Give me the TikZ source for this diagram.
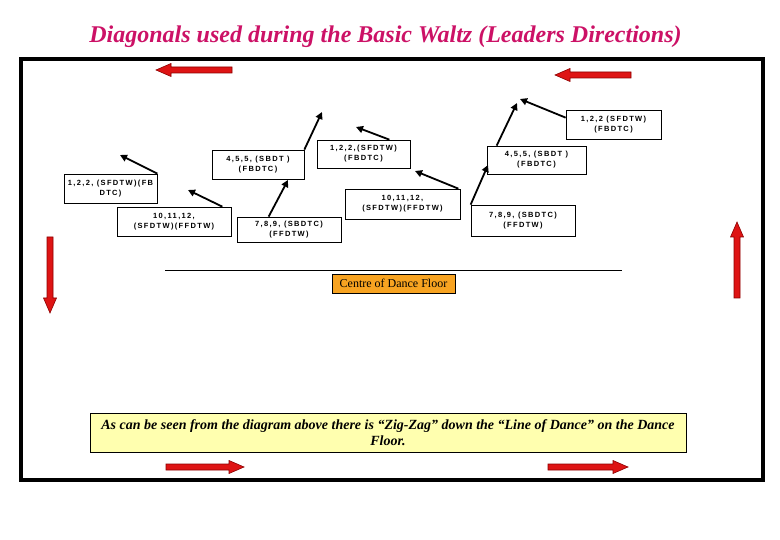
\documentclass[tikz,border=0pt]{standalone}
\usepackage{fontspec}
\setmainfont{Liberation Serif}
\newfontfamily\boxfont[LetterSpace=18]{Liberation Sans}
\usetikzlibrary{arrows.meta,calc}
\definecolor{titlecol}{RGB}{204,17,102}
\definecolor{arrowred}{RGB}{222,20,20}
\definecolor{arrowdark}{RGB}{140,0,0}
\definecolor{noteyellow}{RGB}{255,255,175}
\definecolor{centreorange}{RGB}{247,163,33}
\newcommand\myredarrow[3]{%
  \begin{scope}[shift={#1}, rotate=#2]
    \filldraw[fill=arrowred, draw=arrowdark, line width=0.6pt]
      (0,-3) -- ({#3-15},-3) -- ({#3-15},-6.5) -- (#3,0) -- ({#3-15},6.5) -- ({#3-15},3) -- (0,3) -- cycle;
  \end{scope}}
\begin{document}
\begin{tikzpicture}[x=1pt,y=-1pt,
  lbl/.style={draw, line width=0.7pt, fill=white, inner sep=0pt, align=center,
    font=\boxfont\bfseries\fontsize{7.5}{10}\selectfont},
  dir/.style={line width=1.8pt, -{Triangle[length=7pt,width=7pt]}}]
\useasboundingbox (0,0) rectangle (780,540);
\fill[white] (0,0) rectangle (780,540);
% title
\node[anchor=base, text=titlecol, inner sep=0pt,
  font=\bfseries\itshape\fontsize{24}{28}\selectfont] (title) at (385.5,43)
  {Diagonals used during the Basic Waltz (Leaders Directions)};
% frame
\draw[line width=4pt] (21,59) rectangle (763,480);
% red arrows
\myredarrow{(232,70)}{180}{76}
\myredarrow{(631,75)}{180}{76}
\myredarrow{(50,237)}{-90}{76}
\myredarrow{(737,298)}{90}{76}
\myredarrow{(166,467)}{0}{78}
\myredarrow{(548,467)}{0}{80}
% boxes
\node[lbl, minimum width=95pt, minimum height=29pt] (A) at (613.5,124.5) {1,2,2 (SFDTW)\\(FBDTC)};
\node[lbl, minimum width=99pt, minimum height=28pt] (B) at (536.5,160) {4,5,5, (SBDT )\\(FBDTC)};
\node[lbl, minimum width=93pt, minimum height=28pt] (C) at (363.5,154) {1,2,2,(SFDTW)\\(FBDTC)};
\node[lbl, minimum width=92pt, minimum height=29pt] (D) at (258,164.5) {4,5,5, (SBDT )\\(FBDTC)};
\node[lbl, minimum width=93pt, minimum height=29pt] (E) at (110.5,188.5) {1,2,2, (SFDTW)(FB\\DTC)};
\node[lbl, minimum width=114pt, minimum height=29pt] (F) at (174,221.5) {10,11,12,\\(SFDTW)(FFDTW)};
\node[lbl, minimum width=104pt, minimum height=25pt] (G) at (289,229.5) {7,8,9, (SBDTC)\\(FFDTW)};
\node[lbl, minimum width=115pt, minimum height=30pt] (H) at (402.5,204) {10,11,12,\\(SFDTW)(FFDTW)};
\node[lbl, minimum width=104pt, minimum height=31pt] (I) at (523,220.5) {7,8,9, (SBDTC)\\(FFDTW)};
% arrow tips
\coordinate (tA) at (520,99);
\coordinate (tB) at (517,103);
\coordinate (tC) at (356,127);
\coordinate (tD) at (322,112);
\coordinate (tE) at (120,155);
\coordinate (tF) at (188,190);
\coordinate (tG) at (288,180);
\coordinate (tH) at (415,171);
\coordinate (tI) at (488,165);
\draw[dir] ($(A.north west)+(0,8)$) -- (tA);
\draw[dir] ($(B.north west)+(10,0)$) -- (tB);
\draw[dir] ($(C.north east)+(-21,0)$) -- (tC);
\draw[dir] (D.north east) -- (tD);
\draw[dir] (E.north east) -- (tE);
\draw[dir] ($(F.north east)+(-9,0)$) -- (tF);
\draw[dir] ($(G.north west)+(32,0)$) -- (tG);
\draw[dir] ($(H.north east)+(-2,0)$) -- (tH);
\draw[dir] (I.north west) -- (tI);
% centre line
\coordinate (cl1) at (165,270);
\coordinate (cl2) at (622,270);
\draw[line width=0.9pt] (cl1) -- (cl2);
\node[draw, line width=0.6pt, fill=centreorange, minimum width=123pt, minimum height=19pt,
  inner sep=0pt, font=\fontsize{12}{14}\selectfont] (centre) at (393.5,283.5) {Centre of Dance Floor};
% note
\node[draw, line width=0.8pt, fill=noteyellow, minimum width=596pt, minimum height=39pt,
  inner sep=0pt, align=center, font=\bfseries\itshape\fontsize{14}{16}\selectfont] (note) at (388,432.5)
  {As can be seen from the diagram above there is “Zig-Zag” down the “Line of Dance” on the Dance\\Floor.};
\end{tikzpicture}
\end{document}
